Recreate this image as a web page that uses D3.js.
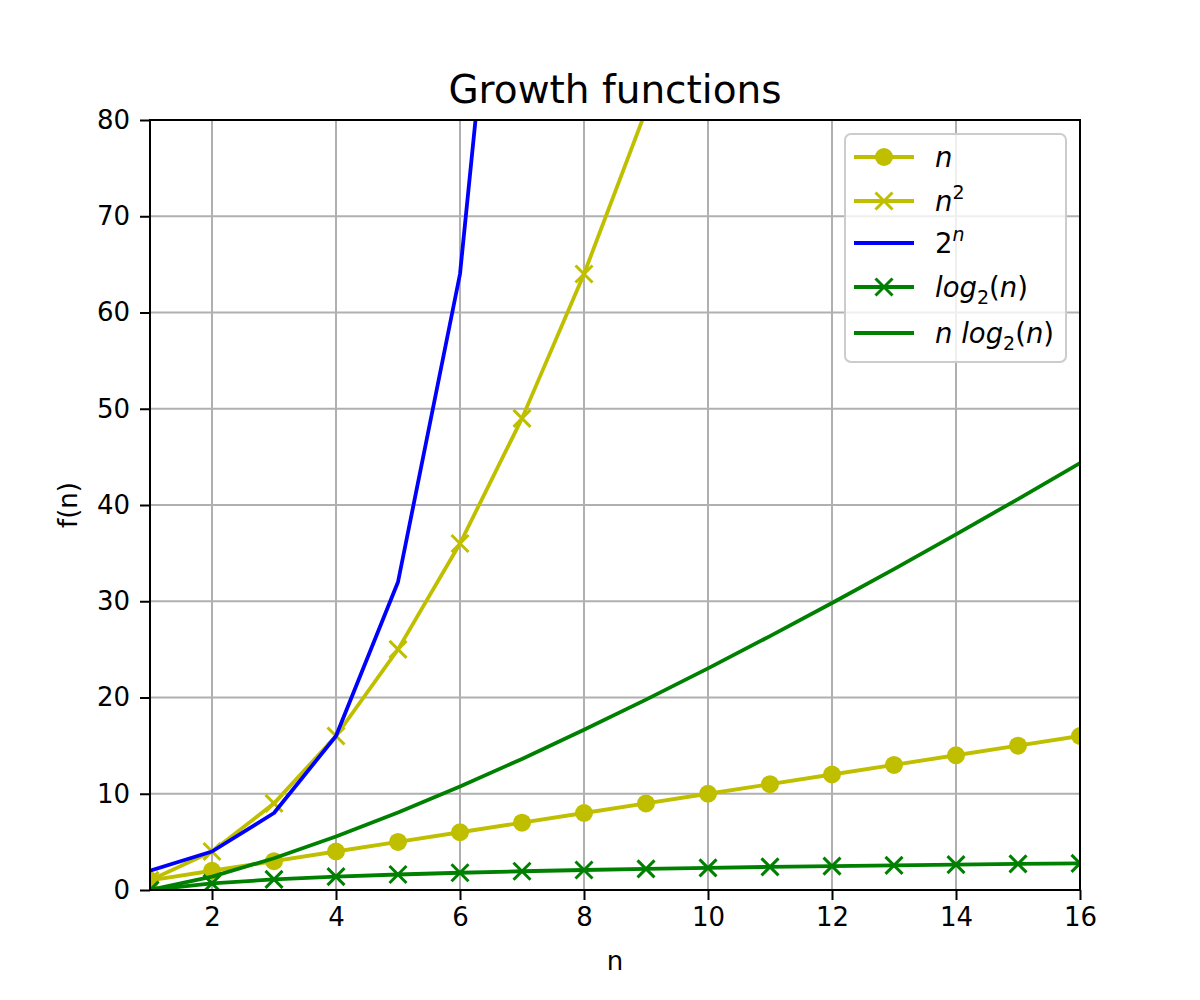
<!DOCTYPE html>
<html>
<head>
<meta charset="utf-8">
<script src="https://cdn.jsdelivr.net/npm/d3@7"></script>
<style>
  body { margin: 0; background: #fff; }
  text { font-family: "DejaVu Sans", sans-serif; fill: #000; }
</style>
</head>
<body>
<svg id="chart" width="1200" height="1000"></svg>
<script>
// values
var ns = [1, 2, 3, 4, 5, 6, 7, 8, 9, 10, 11, 12, 13, 14, 15, 16];
var linear = [1, 2, 3, 4, 5, 6, 7, 8, 9, 10, 11, 12, 13, 14, 15, 16];
var squared = [1, 4, 9, 16, 25, 36, 49, 64, 81, 100, 121, 144, 169, 196, 225, 256];
var exponential = [2, 4, 8, 16, 32, 64, 128, 256, 512, 1024, 2048, 4096, 8192, 16384, 32768, 65536];
var logN = [0, 0.69, 1.1, 1.39, 1.61, 1.79, 1.95, 2.08, 2.2, 2.3, 2.4, 2.48, 2.56, 2.64, 2.71, 2.77];
var nLogN = [0, 1.39, 3.3, 5.55, 8.05, 10.75, 13.62, 16.64, 19.78, 23.03, 26.38, 29.82, 33.34, 36.95, 40.62, 44.36];
var xTicks = [2, 4, 6, 8, 10, 12, 14, 16];
var yTicks = [0, 10, 20, 30, 40, 50, 60, 70, 80];

var chart = {};

chart.series = [
  { key: 'n', values: linear, color: '#bfbf00', marker: 'o' },
  { key: 'n2', values: squared, color: '#bfbf00', marker: 'x' },
  { key: '2n', values: exponential, color: '#0000ff', marker: null },
  { key: 'log', values: logN, color: '#008000', marker: 'x' },
  { key: 'nlog', values: nLogN, color: '#008000', marker: null }
];

chart.drawMarker = function(sel, type, color) {
  if (type === 'o') {
    sel.append('circle').attr('r', 9).attr('fill', color).attr('stroke', 'none');
  } else if (type === 'x') {
    var s = 8.5;
    sel.append('path')
      .attr('d', 'M' + (-s) + ',' + (-s) + 'L' + s + ',' + s + 'M' + (-s) + ',' + s + 'L' + s + ',' + (-s))
      .attr('stroke', color).attr('stroke-width', 3).attr('fill', 'none');
  }
};

chart.main = function() {
  var svg = d3.select('#chart');
  var left = 150, right = 1080, top = 120, bottom = 890;

  var x = d3.scaleLinear().domain([1, 16]).range([left, right]);
  var y = d3.scaleLinear().domain([0, 80]).range([bottom, top]);

  svg.append('defs').append('clipPath').attr('id', 'plot-clip')
    .append('rect').attr('x', left).attr('y', top)
    .attr('width', right - left).attr('height', bottom - top);

  // grid
  var grid = svg.append('g');
  grid.selectAll('.gx').data(xTicks).enter().append('line')
    .attr('x1', function(d) { return x(d); }).attr('x2', function(d) { return x(d); })
    .attr('y1', top).attr('y2', bottom)
    .attr('stroke', '#b0b0b0').attr('stroke-width', 2);
  grid.selectAll('.gy').data(yTicks).enter().append('line')
    .attr('y1', function(d) { return y(d); }).attr('y2', function(d) { return y(d); })
    .attr('x1', left).attr('x2', right)
    .attr('stroke', '#b0b0b0').attr('stroke-width', 2);

  // lines + markers
  var plot = svg.append('g').attr('clip-path', 'url(#plot-clip)');
  var line = d3.line()
    .x(function(d, i) { return x(ns[i]); })
    .y(function(d) { return y(d); });

  chart.series.forEach(function(s) {
    plot.append('path').datum(s.values)
      .attr('d', line)
      .attr('fill', 'none')
      .attr('stroke', s.color)
      .attr('stroke-width', 3.8)
      .attr('stroke-linejoin', 'round');
    if (s.marker) {
      s.values.forEach(function(v, i) {
        var g = plot.append('g').attr('transform', 'translate(' + x(ns[i]) + ',' + y(v) + ')');
        chart.drawMarker(g, s.marker, s.color);
      });
    }
  });

  // axes
  var xAxis = svg.append('g').attr('transform', 'translate(0,' + bottom + ')')
    .call(d3.axisBottom(x).tickValues(xTicks).tickSize(10).tickPadding(8).tickFormat(d3.format('d')));
  var yAxis = svg.append('g').attr('transform', 'translate(' + left + ',0)')
    .call(d3.axisLeft(y).tickValues(yTicks).tickSize(10).tickPadding(10).tickFormat(d3.format('d')));
  [xAxis, yAxis].forEach(function(a) {
    a.select('.domain').remove();
    a.selectAll('line').attr('stroke', '#000').attr('stroke-width', 2);
    a.selectAll('text').attr('font-size', 26).attr('font-family', '"DejaVu Sans", sans-serif').attr('fill', '#000');
  });

  // frame
  svg.append('rect').attr('x', left).attr('y', top)
    .attr('width', right - left).attr('height', bottom - top)
    .attr('fill', 'none').attr('stroke', '#000').attr('stroke-width', 2);

  // title and labels
  svg.append('text').attr('x', (left + right) / 2).attr('y', 103)
    .attr('text-anchor', 'middle').attr('font-size', 39).text('Growth functions');
  svg.append('text').attr('x', (left + right) / 2).attr('y', 970)
    .attr('text-anchor', 'middle').attr('font-size', 26).text('n');
  svg.append('text').attr('transform', 'translate(77,' + ((top + bottom) / 2) + ') rotate(-90)')
    .attr('text-anchor', 'middle').attr('font-size', 26).text('f(n)');

  // legend
  var lg = svg.append('g');
  lg.append('rect').attr('x', 845).attr('y', 134).attr('width', 221).attr('height', 228)
    .attr('rx', 6).attr('fill', '#fff').attr('fill-opacity', 0.8)
    .attr('stroke', '#cccccc').attr('stroke-width', 2);

  var rowY = [157, 201, 243, 287, 333];
  chart.series.forEach(function(s, i) {
    var g = lg.append('g').attr('transform', 'translate(0,' + rowY[i] + ')');
    g.append('line').attr('x1', 854).attr('x2', 914).attr('y1', 0).attr('y2', 0)
      .attr('stroke', s.color).attr('stroke-width', 3.8);
    if (s.marker) {
      var m = g.append('g').attr('transform', 'translate(884,0)');
      chart.drawMarker(m, s.marker, s.color);
    }
    var t = g.append('text').attr('x', 935).attr('y', 10).attr('font-size', 27.5);
    if (s.key === 'n') {
      t.append('tspan').attr('font-style', 'italic').text('n');
    } else if (s.key === 'n2') {
      t.append('tspan').attr('font-style', 'italic').text('n');
      t.append('tspan').attr('font-size', 19).attr('dy', -12).text('2');
    } else if (s.key === '2n') {
      t.append('tspan').text('2');
      t.append('tspan').attr('font-style', 'italic').attr('font-size', 19).attr('dy', -12).text('n');
    } else {
      if (s.key === 'nlog') {
        t.append('tspan').attr('font-style', 'italic').text('n ');
      }
      t.append('tspan').attr('font-style', 'italic').text('log');
      t.append('tspan').attr('font-size', 19).attr('dy', 7).text('2');
      t.append('tspan').attr('dy', -7).text('(');
      t.append('tspan').attr('font-style', 'italic').text('n');
      t.append('tspan').text(')');
    }
  });
};

chart.main();
</script>
</body>
</html>
